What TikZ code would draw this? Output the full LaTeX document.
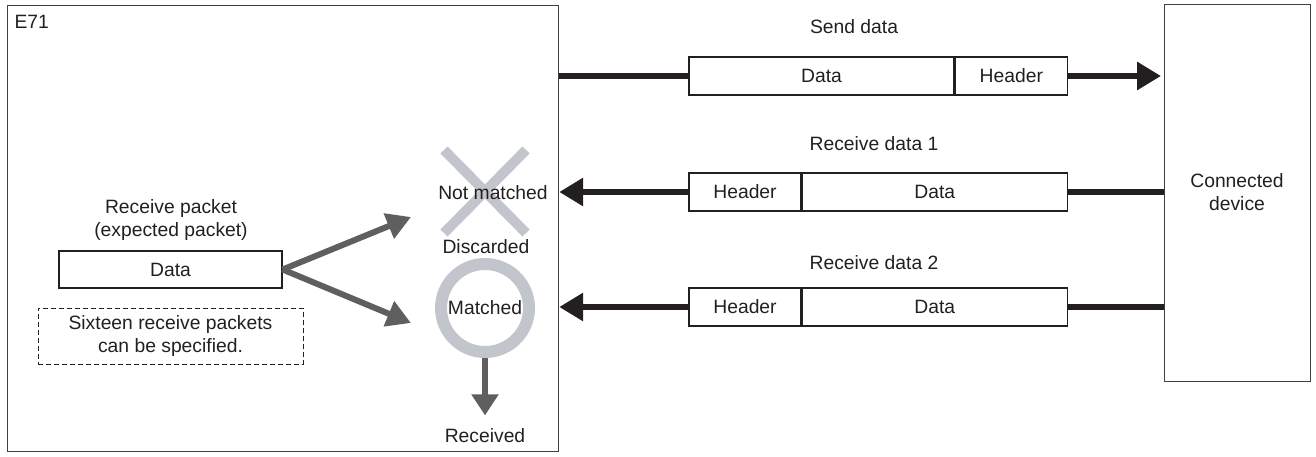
\documentclass[tikz,border=0pt]{standalone}
\usepackage{fontspec}
\setmainfont{Liberation Sans}
\usepackage{tikz}
\usetikzlibrary{arrows.meta,positioning}
\usepackage{xcolor}
\definecolor{ink}{HTML}{231F20}
\definecolor{framegray}{HTML}{404040}
\definecolor{arrgray}{HTML}{5F5F5F}
\definecolor{markgray}{HTML}{C2C5CB}

\begin{document}
\begin{tikzpicture}[x=1pt, y=-1pt,
  every node/.style={font=\fontsize{19.3}{23.5}\selectfont, text=ink, align=center},
  unit/.style={draw=framegray, line width=1.2pt, anchor=north west, inner sep=0pt},
  cell/.style={draw=ink, line width=1.3pt, minimum height=38pt, inner sep=0pt},
  wire/.style={ink, line width=6pt},
  warr/.style={wire, -{Triangle[length=24pt,width=27pt]}},
  garr/.style={arrgray, line width=6pt, -{Triangle[length=24pt,width=26pt]}},
  crossline/.style={markgray, line width=10pt}
]
\useasboundingbox (0,0) rectangle (1316,457);

% units
\node[unit, minimum width=551pt, minimum height=446pt] (e71) at (7,5) {};
\node[anchor=west] (e71lbl) at (11,22) {E71};
\node[unit, minimum width=146pt, minimum height=377pt] (dev) at (1164,4) {};
\node (devlbl) at (1237,192) {Connected\\device};

% send data
\node (sendlbl) at (854,27) {Send data};
\node[cell, minimum width=265pt] (sdata) at (821.5,76) {Data};
\node[cell, minimum width=112pt, right=0pt of sdata] (shead) {Header};
\draw[wire] (e71.east |- sdata) -- (sdata.west);
\draw[warr, shorten >=3pt] (shead.east) -- (dev.west |- shead);

% receive data 1
\node (rcv1lbl) at (874,144) {Receive data 1};
\node[cell, minimum width=112pt] (r1head) at (745,192) {Header};
\node[cell, minimum width=265pt, right=0pt of r1head] (r1data) {Data};
\draw[wire] (dev.west |- r1data) -- (r1data.east);
\draw[warr] (r1head.west) -- (e71.east |- r1head);

% receive data 2
\node (rcv2lbl) at (874,263) {Receive data 2};
\node[cell, minimum width=112pt] (r2head) at (745,307) {Header};
\node[cell, minimum width=265pt, right=0pt of r2head] (r2data) {Data};
\draw[wire] (dev.west |- r2data) -- (r2data.east);
\draw[warr] (r2head.west) -- (e71.east |- r2head);

% receive packet
\node (pktlbl) at (171,220) {Receive packet\\(expected packet)};
\node[cell, minimum width=223pt, minimum height=37pt] (pdata) at (170.5,269.5) {Data};
\node[draw=ink, line width=1pt, dash pattern=on 5pt off 3pt,
  minimum width=265pt, minimum height=56pt, inner sep=0pt] (note) at (170.5,336)
  {Sixteen receive packets\\can be specified.};

% compare result
\draw[crossline] (444,150) -- (526,233);
\draw[crossline] (526,150) -- (444,233);
\node (notm) at (493,193) {Not matched};
\node (disc) at (486,247) {Discarded};
\node[circle, draw=markgray, line width=12pt, minimum size=88pt, inner sep=0pt] (ring) at (485,308) {Matched};
\node (recv) at (485,436) {Received};
\coordinate (nmtip) at (411,217);
\coordinate (mtip) at (411,323);
\draw[garr] (pdata.east) -- (nmtip);
\draw[garr] (pdata.east) -- (mtip);
\draw[garr, -{Triangle[length=21pt,width=26pt]}, shorten >=10pt] (ring.south) -- (recv.north);
\end{tikzpicture}
\end{document}
